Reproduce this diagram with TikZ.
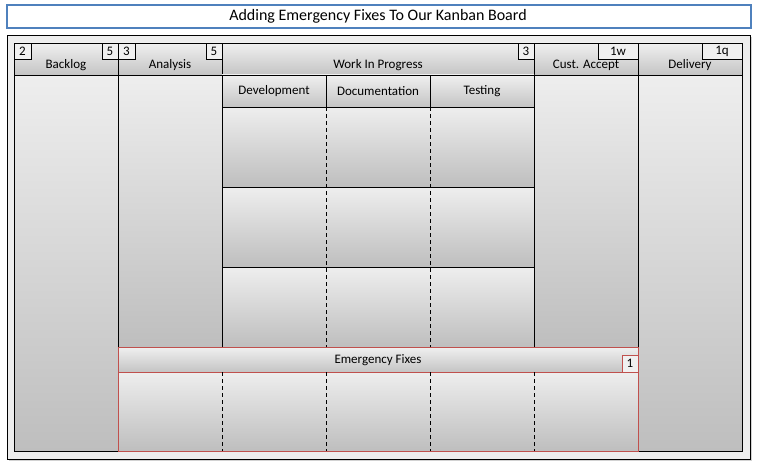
\documentclass[tikz,border=0pt]{standalone}
\usepackage{fontspec}
\setmainfont{Carlito}
\usetikzlibrary{shadows}
\definecolor{titleblue}{HTML}{4F81BD}
\definecolor{efred}{HTML}{C0504D}
\definecolor{boardbg}{HTML}{EDEDED}
\definecolor{gtop}{HTML}{EEEEEE}
\definecolor{gbot}{HTML}{BEBEBE}
\definecolor{htop}{HTML}{F0F0F0}
\definecolor{hbot}{HTML}{C4C4C4}
\begin{document}
\begin{tikzpicture}[x=1pt,y=-1pt,
  cellbox/.style={draw=black, line width=0.9pt, anchor=north west, inner sep=0pt, outer sep=0pt,
    top color=gtop, bottom color=gbot},
  headbox/.style={draw=black, line width=0.9pt, anchor=north west, inner sep=0pt, outer sep=0pt,
    top color=htop, bottom color=hbot},
  limbox/.style={draw=black, line width=0.9pt, anchor=north west, inner sep=0pt, outer sep=0pt,
    fill=htop, font=\fontsize{13}{13}\selectfont, minimum height=16pt},
  lbl/.style={font=\fontsize{13}{13}\selectfont, inner sep=0pt},
  sep/.style={line width=0.9pt, dash pattern=on 4pt off 3pt},
  efbox/.style={draw=efred, line width=0.9pt, anchor=north west, inner sep=0pt, outer sep=0pt}
]
\useasboundingbox (0,0) rectangle (757,468);
\fill[white] (0,0) rectangle (757,468);

% title
\node[draw=titleblue, line width=2pt, fill=white, anchor=north west, minimum width=744pt, minimum height=23pt, inner sep=0pt]
  (title) at (6,4) {};
\node[font=\fontsize{16}{16}\selectfont, inner sep=0pt] (titletext) at (378,16) {Adding Emergency Fixes To Our Kanban Board};

% board
\node[draw=black, line width=0.9pt, fill=boardbg, anchor=north west, minimum width=743pt, minimum height=424pt, inner sep=0pt,
  drop shadow={shadow xshift=2pt, shadow yshift=-2pt, opacity=0.35}] (board) at (7,35) {};

% column bodies
\node[cellbox, minimum width=104pt, minimum height=376pt] (backlogbody) at (14,75) {};
\node[cellbox, minimum width=104pt, minimum height=272pt] (analysisbody) at (118,75) {};
\node[cellbox, minimum width=104pt, minimum height=272pt] (custbody) at (534,75) {};
\node[cellbox, minimum width=104pt, minimum height=376pt] (delivbody) at (638,75) {};

% WIP rows
\node[cellbox, minimum width=312pt, minimum height=80pt] (row1) at (222,107) {};
\node[cellbox, minimum width=312pt, minimum height=80pt] (row2) at (222,187) {};
\node[cellbox, minimum width=312pt, minimum height=80pt] (row3) at (222,267) {};

% headers
\node[headbox, minimum width=104pt, minimum height=32pt] (hbacklog) at (14,43) {};
\node[headbox, minimum width=104pt, minimum height=32pt] (hanalysis) at (118,43) {};
\node[headbox, minimum width=312pt, minimum height=32pt] (hwip) at (222,43) {};
\node[headbox, minimum width=104pt, minimum height=32pt] (hcust) at (534,43) {};
\node[headbox, minimum width=104pt, minimum height=32pt] (hdeliv) at (638,43) {};

\node[lbl] (tbacklog) at (66,65.5) {Backlog};
\node[lbl] (tanalysis) at (170,65.5) {Analysis};
\node[lbl] (twip) at (378,65.5) {Work In Progress};
\node[lbl] (tcust) at (586,65.5) {Cust. Accept};
\node[lbl] (tdeliv) at (690,65.5) {Delivery};

% sub headers
\node[headbox, minimum width=104pt, minimum height=32pt] (hdev) at (222,75) {};
\node[headbox, minimum width=104pt, minimum height=32pt] (hdoc) at (326,75) {};
\node[headbox, minimum width=104pt, minimum height=32pt] (htest) at (430,75) {};
\node[lbl] (tdev) at (274,91) {Development};
\node[lbl] (tdoc) at (378,91) {Documentation};
\node[lbl] (ttest) at (482,91) {Testing};

% limit boxes
\node[limbox, minimum width=17pt] (l1) at (14,43) {2};
\node[limbox, minimum width=16pt] (l2) at (102,43) {5};
\node[limbox, minimum width=17pt] (l3) at (118,43) {3};
\node[limbox, minimum width=16pt] (l4) at (206,43) {5};
\node[limbox, minimum width=16pt] (l5) at (518,43) {3};
\node[limbox, minimum width=40pt] (l6) at (598,43) {1w};
\node[limbox, minimum width=40pt] (l7) at (702,43) {1q};

% dashed separators in WIP
\coordinate (d1a) at (326,107); \coordinate (d1b) at (326,347);
\coordinate (d2a) at (430,107); \coordinate (d2b) at (430,347);
\draw[sep] (d1a) -- (d1b);
\draw[sep] (d2a) -- (d2b);
\draw[line width=0.9pt] (row1.south west) -- (row1.south east);
\draw[line width=0.9pt] (row2.south west) -- (row2.south east);

% emergency band
\node[efbox, top color=gtop, bottom color=gbot, minimum width=520pt, minimum height=79pt] (efbody) at (118,372) {};
\node[efbox, top color=htop, bottom color=hbot, minimum width=520pt, minimum height=25pt] (efhead) at (118,347) {};
\node[lbl] (teh) at (378,360.5) {Emergency Fixes};
\node[efbox, fill=htop, minimum width=16pt, minimum height=17pt, font=\fontsize{13}{13}\selectfont] (efl) at (622,355) {1};

\coordinate (e1a) at (222,372); \coordinate (e1b) at (222,451);
\coordinate (e2a) at (326,372); \coordinate (e2b) at (326,451);
\coordinate (e3a) at (430,372); \coordinate (e3b) at (430,451);
\coordinate (e4a) at (534,372); \coordinate (e4b) at (534,451);
\draw[sep] (e1a) -- (e1b);
\draw[sep] (e2a) -- (e2b);
\draw[sep] (e3a) -- (e3b);
\draw[sep] (e4a) -- (e4b);
\end{tikzpicture}
\end{document}
